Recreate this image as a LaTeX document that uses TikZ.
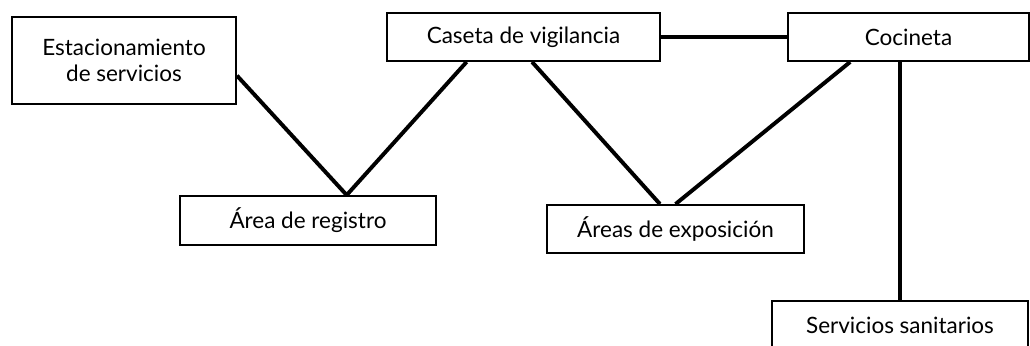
\documentclass[tikz,border=0pt]{standalone}
\usepackage{fontspec}
\setmainfont{Lato}
\usepackage{tikz}
\usetikzlibrary{positioning, calc}
\tikzset{
  area_box/.style={rectangle, draw=black, fill=white, line width=1.3pt, inner sep=2pt, align=center, font=\fontsize{16}{19}\selectfont},
  link/.style={-, line width=2.8pt, black}
}

\begin{document}
\begin{tikzpicture}[x=0.025cm, y=-0.025cm]
    \useasboundingbox (0,0) rectangle (1030,346);

    % 1. Place the areas
    \node[area_box, minimum width=5.6cm, minimum height=2.175cm] (estac) at (124,60.5) {Estacionamiento\\de servicios};
    \node[area_box, minimum width=6.825cm, minimum height=1.2cm] (caseta) at (523.5,37) {Caseta de vigilancia};
    \node[area_box, minimum width=6.025cm, minimum height=1.2cm] (cocineta) at (908.5,37) {Cocineta};
    \node[area_box, minimum width=6.4cm, minimum height=1.225cm] (registro) at (308,220.5) {Área de registro};
    \node[area_box, minimum width=6.425cm, minimum height=1.2cm] (expo) at (675.5,229) {Áreas de exposición};
    \node[area_box, minimum width=6.4cm, minimum height=1.2cm] (servicios) at (900,325) {Servicios sanitarios};

    % 2. Points on the box borders
    \coordinate (estacOut) at ($(estac.north east)!0.67!(estac.south east)$);
    \coordinate (regTop) at ($(registro.north west)!0.65!(registro.north east)$);
    \coordinate (casetaA) at ($(caseta.south west)!0.293!(caseta.south east)$);
    \coordinate (casetaB) at ($(caseta.south west)!0.531!(caseta.south east)$);
    \coordinate (expoTop) at ($(expo.north west)!0.44!(expo.north east)$);
    \coordinate (cocinetaA) at ($(cocineta.south west)!0.26!(cocineta.south east)$);

    % 3. Connections
    \draw[link] (estacOut) -- (regTop);
    \draw[link] (casetaA) -- (regTop);
    \draw[link] (casetaB) -- (expoTop);
    \draw[link] (cocinetaA) -- (expo.north);
    \draw[link] (caseta.east) -- (cocineta.west);
    \draw[link] (cocineta.south -| servicios.north) -- (servicios.north);
\end{tikzpicture}
\end{document}
